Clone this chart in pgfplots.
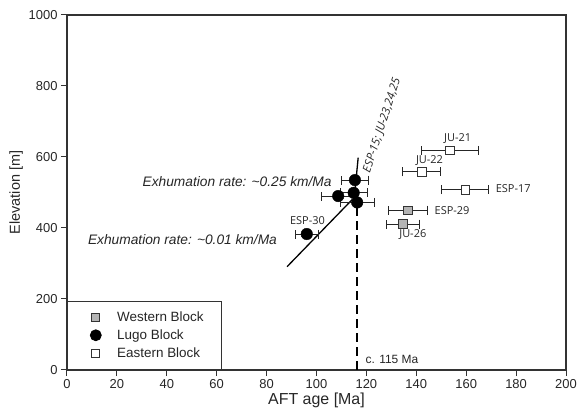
\documentclass[border=0pt]{standalone}
\usepackage{pgfplots}
\pgfplotsset{compat=1.18}
\usepackage{fontspec}
\setmainfont{Liberation Sans}
\newfontfamily\lab{Open Sans}
\definecolor{wgray}{RGB}{180,180,180}
\begin{document}
\begin{tikzpicture}
\begin{axis}[
  at={(0,0)}, anchor=south west,
  scale only axis, width=499bp, height=355bp,
  xmin=0, xmax=200, ymin=0, ymax=1000,
  xtick={0,20,...,200}, ytick={0,200,...,1000},
  tick align=outside, major tick length=6bp,
  xtick pos=bottom, ytick pos=left,
  axis line style={line width=1.1bp, black!80},
  every tick/.style={line width=1bp, black!80},
  /pgf/number format/assume math mode=true,
  /pgf/number format/1000 sep={},
  tick label style={font=\fontsize{13}{15}\selectfont, black!85},
  xlabel={AFT age [Ma]}, ylabel={Elevation [m]},
  xlabel style={font=\fontsize{16}{18}\selectfont, black!85, yshift=3bp},
  ylabel style={font=\fontsize{14.5}{16}\selectfont, black!85, yshift=-1bp},
  legend style={at={(0,0)}, anchor=south west, draw=black!80, line width=0.8bp,
    font=\fontsize{13.5}{15}\selectfont, inner xsep=16bp, inner ysep=9bp,
    row sep=2.5bp, legend cell align=left, text=black!85},
  legend image code/.code={\path (0,0) (24bp,0); \draw[#1] plot coordinates {(12bp,0bp)};},
  clip=false,
]
\addlegendimage{only marks, mark=square*, mark size=4bp, mark options={fill=wgray, draw=black!80, line width=0.8bp}}
\addlegendentry{\hspace{7bp}Western Block}
\addlegendimage{only marks, mark=*, mark size=5.5bp, mark options={fill=black, draw=black}}
\addlegendentry{\hspace{7bp}Lugo Block}
\addlegendimage{only marks, mark=square*, mark size=4bp, mark options={fill=white, draw=black!80, line width=0.8bp}}
\addlegendentry{\hspace{7bp}Eastern Block}

% dashed line
\addplot[forget plot, black, line width=2bp, dash pattern=on 9bp off 5bp] coordinates {(116.2,0) (116.2,470)};
% exhumation lines
\addplot[forget plot, black, line width=1.3bp] coordinates {(88.2,291) (114.3,480)};
\addplot[forget plot, black, line width=1.3bp] coordinates {(115.0,475) (116.7,598)};

% Lugo block
\addplot[forget plot, only marks, mark=*, mark size=5.8bp, mark options={fill=black, draw=black},
  error bars/.cd, x dir=both, x explicit,
  error bar style={line width=1bp, black!85},
  error mark options={rotate=90, mark size=4.5bp, line width=1bp, black!85}]
  coordinates {
  (96.1,383) +- (4.6,0)
  (115.4,535) +- (5.3,0)
  (108.7,490) +- (6.6,0)
  (114.9,499) +- (5.4,0)
  (116.3,472) +- (6.8,0)
};
% Western block
\addplot[forget plot, only marks, mark=square*, mark size=4.3bp, mark options={fill=wgray, draw=black!80, line width=0.8bp},
  error bars/.cd, x dir=both, x explicit,
  error bar style={line width=1bp, black!85},
  error mark options={rotate=90, mark size=4.5bp, line width=1bp, black!85}]
  coordinates {
  (136.7,450) +- (7.7,0)
  (134.7,411) +- (6.7,0)
};
% Eastern block
\addplot[forget plot, only marks, mark=square*, mark size=4.3bp, mark options={fill=white, draw=black!80, line width=0.8bp},
  error bars/.cd, x dir=both, x explicit,
  error bar style={line width=1bp, black!85},
  error mark options={rotate=90, mark size=4.5bp, line width=1bp, black!85}]
  coordinates {
  (153.5,619) +- (11.4,0)
  (142.2,558) +- (7.6,0)
  (159.6,508) +- (9.4,0)
};

\node[font=\lab\fontsize{11}{12}\selectfont, black!85] at (axis cs:156.6,652) {JU-21};
\node[font=\lab\fontsize{11}{12}\selectfont, black!85] at (axis cs:145.3,589) {JU-22};
\node[font=\lab\fontsize{11}{12}\selectfont, black!85, anchor=west, inner sep=0pt] at (axis cs:171.8,510) {ESP-17};
\node[font=\lab\fontsize{11}{12}\selectfont, black!85, anchor=west, inner sep=0pt] at (axis cs:147.3,448) {ESP-29};
\node[font=\lab\fontsize{11}{12}\selectfont, black!85] at (axis cs:138.6,381) {JU-26};
\node[font=\lab\fontsize{11}{12}\selectfont, black!85] at (axis cs:96.4,421) {ESP-30};
\node[font=\fontsize{12}{14}\selectfont, black!85, anchor=west, inner sep=0pt] at (axis cs:119.6,31) {c. 115 Ma};
\node[font=\lab\itshape\fontsize{11.5}{13}\selectfont, black!85, anchor=south west, inner sep=0pt, rotate=72] at (axis cs:122.3,552) {ESP-15; JU-23,24,25};
\node[font=\itshape\fontsize{13.8}{15}\selectfont, black!85, anchor=east, inner sep=0pt] at (axis cs:106.1,532) {Exhumation rate: \textasciitilde0.25 km/Ma};
\node[font=\itshape\fontsize{13.8}{15}\selectfont, black!85, anchor=east, inner sep=0pt] at (axis cs:84.2,367) {Exhumation rate: \textasciitilde0.01 km/Ma};
\end{axis}
\pgfresetboundingbox
\path[use as bounding box] (-67bp,-49bp) rectangle (510bp,370bp);
\end{tikzpicture}
\end{document}
